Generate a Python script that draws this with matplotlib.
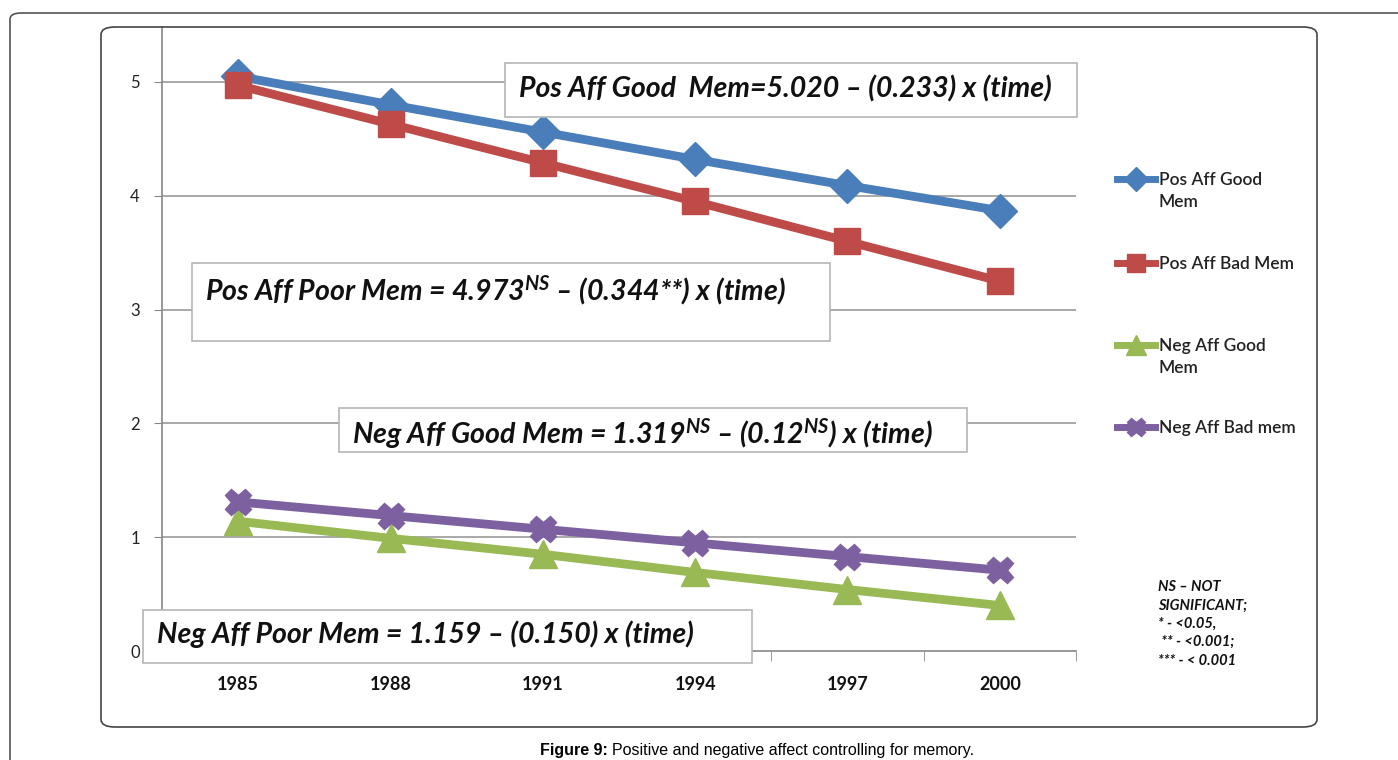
import matplotlib
matplotlib.use("Agg")
import matplotlib.pyplot as plt
from matplotlib.patches import FancyBboxPatch, Rectangle
from matplotlib.lines import Line2D

plt.rcParams['mathtext.fontset'] = 'custom'
plt.rcParams['mathtext.it'] = 'Lato:italic:bold'
plt.rcParams['mathtext.rm'] = 'Lato:italic:bold'

years = ["1985", "1988", "1991", "1994", "1997", "2000"]
pos_good = [5.05, 4.80, 4.56, 4.32, 4.09, 3.87]
pos_bad = [4.97, 4.63, 4.29, 3.95, 3.60, 3.25]
neg_good = [1.14, 0.99, 0.85, 0.69, 0.54, 0.40]
neg_bad = [1.31, 1.19, 1.07, 0.95, 0.83, 0.71]
series_names = ["Pos Aff Good\nMem", "Pos Aff Bad Mem", "Neg Aff Good\nMem", "Neg Aff Bad mem"]
yticks = [0, 1, 2, 3, 4, 5]

W, H = 1398, 760
fig = plt.figure(figsize=(W / 100, H / 100), dpi=100)

def fx(px):
    return px / W

def fy(py):
    return 1 - py / H

# outer and inner frames
outer = FancyBboxPatch((fx(10), fy(800)), fx(1420), fy(13) - fy(800),
                       boxstyle="round,pad=0,rounding_size=0.008",
                       transform=fig.transFigure, fill=False, edgecolor="#555555", lw=1.2)
fig.patches.append(outer)
inner = FancyBboxPatch((fx(101), fy(727)), fx(1317) - fx(101), fy(27) - fy(727),
                       boxstyle="round,pad=0,rounding_size=0.01",
                       transform=fig.transFigure, fill=False, edgecolor="#444444", lw=1.2)
fig.patches.append(inner)

ax = fig.add_axes([fx(162), fy(651), fx(1076) - fx(162), fy(27) - fy(651)])
x = list(range(len(years)))
ax.set_xlim(-0.5, len(years) - 0.5)
ax.set_ylim(0, (651 - 27) / 113.8)

colors = ["#4A7EBB", "#BE4B48", "#98B954", "#7D60A0"]
markers = ["D", "s", "^", "X"]
msizes = [17, 19, 20, 19]
data = [pos_good, pos_bad, neg_good, neg_bad]
for d, c, m, ms, name in zip(data, colors, markers, msizes, series_names):
    ax.plot(x, d, color=c, lw=6.3, marker=m, ms=ms, mec=c, mfc=c, label=name,
            solid_capstyle="butt", zorder=3)

for v in yticks[1:]:
    ax.axhline(v, color="#9a9a9a", lw=1.2, zorder=1)

for s in ["top", "right"]:
    ax.spines[s].set_visible(False)
ax.spines["left"].set_color("#888888")
ax.spines["bottom"].set_color("#888888")
ax.spines["left"].set_linewidth(1.2)
ax.spines["bottom"].set_linewidth(1.2)

ax.set_yticks(yticks)
ax.set_yticklabels([str(v) for v in yticks], fontsize=12, family="Lato", color="#222222")
ax.tick_params(axis="y", length=6, color="#888888", pad=10)
ax.set_xticks(x)
ax.set_xticklabels(years, fontsize=13, family="Lato", fontweight="bold", color="#111111")
ax.set_xticks([i - 0.5 for i in range(len(years) + 1)], minor=True)
ax.tick_params(axis="x", which="major", length=0, pad=18)
ax.tick_params(axis="x", which="minor", length=7, color="#888888", direction="out")

# legend
leg_y = [179, 263, 345, 427]
for (c, m, ms, name, ly) in zip(colors, markers, msizes, series_names, leg_y):
    fig.lines.append(Line2D([fx(1117), fx(1155)], [fy(ly), fy(ly)], transform=fig.transFigure,
                            color=c, lw=5))
    fig.lines.append(Line2D([fx(1136)], [fy(ly)], transform=fig.transFigure,
                            color=c, marker=m, ms=ms * 0.7, mec=c, mfc=c, lw=0))
    fig.text(fx(1159), fy(ly - 7), name, fontsize=12.5, family="Lato", color="#222222",
             va="top", ha="left", linespacing=1.45, fontweight="semibold")

# equation boxes
boxes = [
    ((505, 63, 1077, 117), (519, 89), "Pos Aff Good  Mem=5.020 – (0.233) x (time)"),
    ((192, 263, 830, 341), (205, 290), "Pos Aff Poor Mem = 4.973$^{NS}$ – (0.344**) x (time)"),
    ((339, 408, 967, 452), (352, 434), "Neg Aff Good Mem = 1.319$^{NS}$ – (0.12$^{NS}$) x (time)"),
    ((143, 610, 752, 663), (157, 634), "Neg Aff Poor Mem = 1.159 – (0.150) x (time)"),
]
for (x0, y0, x1, y1), (tx, ty), txt in boxes:
    fig.patches.append(Rectangle((fx(x0), fy(y1)), fx(x1) - fx(x0), fy(y0) - fy(y1),
                                 transform=fig.transFigure, facecolor="white",
                                 edgecolor="#b5b5b5", lw=1.2, zorder=5))
    fig.text(fx(tx), fy(ty), txt, fontsize=20.5, family="Lato", style="italic",
             fontweight="bold", color="#111111", va="center", ha="left", zorder=6)

note = "NS – NOT\nSIGNIFICANT;\n* - <0.05,\n ** - <0.001;\n*** - < 0.001"
fig.text(fx(1158), fy(580), note, fontsize=10.5, family="Lato", style="italic",
         fontweight="bold", color="#111111", va="top", ha="left", linespacing=1.4)

# caption
cap1 = fig.text(fx(540), fy(750), "Figure 9:", fontsize=11.5, family="Liberation Sans",
                fontweight="bold", va="center", ha="left")
fig.canvas.draw()
bb = cap1.get_window_extent()
fig.text(bb.x1 / W + fx(4), fy(750), "Positive and negative affect controlling for memory.",
         fontsize=11.5, family="Liberation Sans", va="center", ha="left")

fig.savefig("out.png", dpi=100)
